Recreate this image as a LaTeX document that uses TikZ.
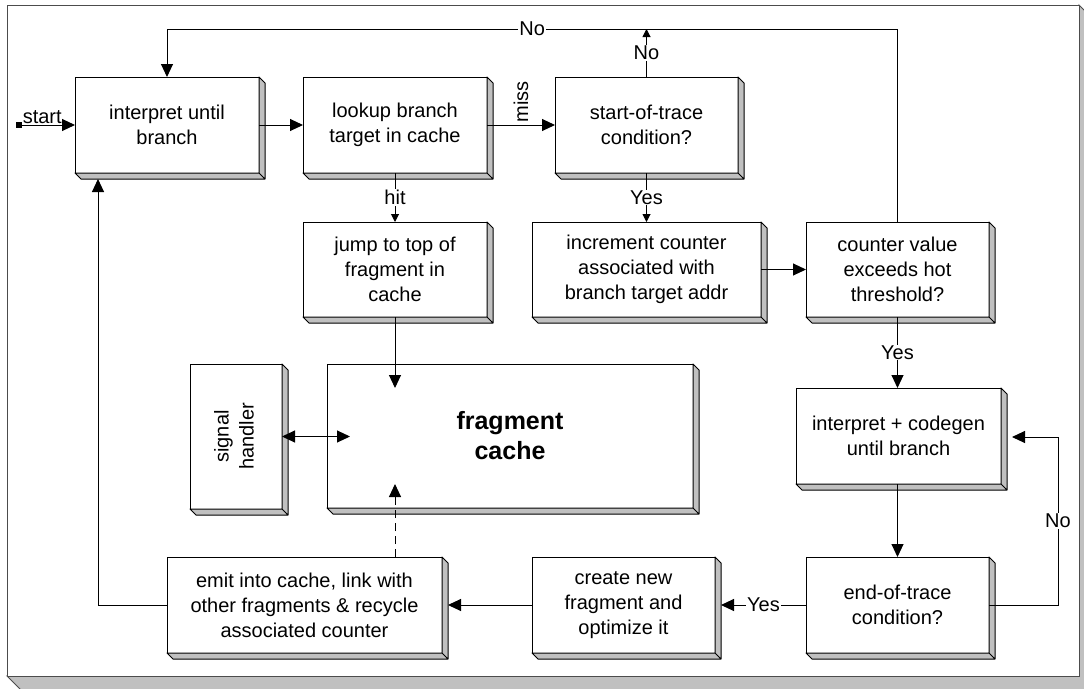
\documentclass[tikz,border=0pt]{standalone}
\usepackage{fontspec}
\setmainfont{Liberation Sans}
\usepackage{graphicx}
\usetikzlibrary{arrows.meta}
\definecolor{shadegray}{RGB}{192,192,192}

\begin{document}
\begin{tikzpicture}[x=1pt,y=-1pt,
  box/.style={draw,fill=white,line width=1pt,outer sep=0pt,align=center,font=\fontsize{20}{25}\selectfont},
  face/.style={fill=shadegray,draw=black,line width=1pt,line join=round},
  arr/.style={line width=1pt,-{Triangle[length=13pt,width=12pt]}},
  darr/.style={line width=1pt,{Triangle[length=13pt,width=12pt]}-{Triangle[length=13pt,width=12pt]}},
  sarr/.style={line width=1pt,-{Triangle[length=8pt,width=8pt]}},
  lbl/.style={fill=white,inner sep=1pt,font=\fontsize{20}{25}\selectfont}]
\useasboundingbox (0,0) rectangle (1084,688);
%================================================================
%	Frame
\filldraw[fill=shadegray,draw=black!70,line width=1pt] (1079,5) -- (1095,21) -- (1095,700) -- (31,700) -- (7,676) -- (1079,676) -- cycle;
\draw[draw=black!70,line width=1pt,fill=white] (7,5) rectangle (1079,676);

%================================================================
%	Top row
\node[box,minimum width=184pt,minimum height=96pt] (interp) at (167,125) {interpret until\\branch};
\node[box,minimum width=184pt,minimum height=96pt] (lookup) at (395,125) {lookup branch\\target in cache};
\node[box,minimum width=183pt,minimum height=96pt] (sot) at (646.5,125) {start-of-trace\\condition?};
%----------------------------------------------------------------
\node[box,minimum width=184pt,minimum height=95pt] (jump) at (395,269.5) {jump to top of\\fragment in\\cache};
\node[box,minimum width=229pt,minimum height=95pt] (incr) at (646.5,269.5) {increment counter\\associated with\\branch target addr};
\node[box,minimum width=183pt,minimum height=95pt] (cval) at (897.5,269.5) {counter value\\exceeds hot\\threshold?};

%================================================================
%	Middle
\node[box,minimum width=92pt,minimum height=145pt] (sig) at (236,436.5) {\rotatebox{90}{\begin{tabular}{@{}c@{}}signal\\handler\end{tabular}}};
\node[box,minimum width=366pt,minimum height=144pt,font=\bfseries\fontsize{25}{30}\selectfont] (cache) at (510,436) {fragment\\cache};
\node[box,minimum width=205pt,minimum height=96pt] (icg) at (898.5,436) {interpret + codegen\\until branch};

%================================================================
%	Bottom row
\node[box,minimum width=275pt,minimum height=96pt] (emit) at (304.5,605) {emit into cache, link with\\other fragments \& recycle\\associated counter};
\node[box,minimum width=183pt,minimum height=96pt] (create) at (623.5,605) {create new\\fragment and\\optimize it};
\node[box,minimum width=183pt,minimum height=96pt] (eot) at (897.5,605) {end-of-trace\\condition?};

%----------------------------------------------------------------
%	3D sides
\foreach \b in {interp,lookup,sot,jump,incr,cval,sig,cache,icg,emit,create,eot}
  \draw[face] (\b.north east) -- ++(6pt,-6pt) -- ([shift={(6pt,-6pt)}]\b.south east)
    -- ([shift={(6pt,-6pt)}]\b.south west) -- (\b.south west) -- (\b.south east) -- cycle
    (\b.south east) -- ++(6pt,-6pt);

%================================================================
%	Connectors
\node[fill=black,inner sep=0pt,minimum size=6pt] (startdot) at (19,125) {};
\draw[arr] (startdot) -- node[lbl,above,fill=none,pos=0.38] (startlbl) {start} (interp);
\draw[arr] (interp) -- (lookup);
\draw[arr] (lookup) -- node[lbl,fill=none,rotate=90,anchor=west,inner sep=2pt] (misslbl) {miss} (sot);
%----------------------------------------------------------------
\coordinate (topR) at (897.5,29);
\coordinate (topL) at (167,29);
\draw[arr] (cval.north) -- (topR) -- node[lbl] (nolbl1) {No} (topL) -- (interp.north);
\draw[sarr] (sot.north) -- node[lbl] (nolbl2) {No} (sot.north |- topR);
%----------------------------------------------------------------
\draw[sarr] (lookup) -- node[lbl] (hitlbl) {hit} (jump);
\draw[sarr] (sot) -- node[lbl] (yeslbl1) {Yes} (incr);
\draw[arr] (incr) -- (cval);
\draw[arr] (cval.south) -- node[lbl] (yeslbl2) {Yes} (cval.south |- icg.north);
%----------------------------------------------------------------
\coordinate (cacheTop) at (395,388);
\coordinate (cacheBot) at (395,484);
\coordinate (sigTip) at (350,436.5);
\draw[arr] (jump) -- (cacheTop);
\draw[darr] (sig) -- (sigTip);
\draw[arr,dash pattern=on 8pt off 5pt] (emit.north -| cacheBot) -- (cacheBot);
%----------------------------------------------------------------
\coordinate (noR) at (1058,605);
\coordinate (noT) at (1058,437);
\coordinate (icgIn) at (1012,437);
\draw[arr] (eot.north |- icg.south) -- (eot.north);
\draw[arr] (eot.east) -- (noR) -- node[lbl] (nolbl3) {No} (noT) -- (icgIn);
\draw[arr] (eot.west) -- node[lbl] (yeslbl3) {Yes} ([xshift=6pt]create.east);
\draw[arr] (create.west) -- ([xshift=6pt]emit.east);
\coordinate (backL) at (98,605);
\coordinate (backT) at (98,179);
\draw[arr] (emit.west) -- (backL) -- (backT);
%================================================================
\end{tikzpicture}
\end{document}
